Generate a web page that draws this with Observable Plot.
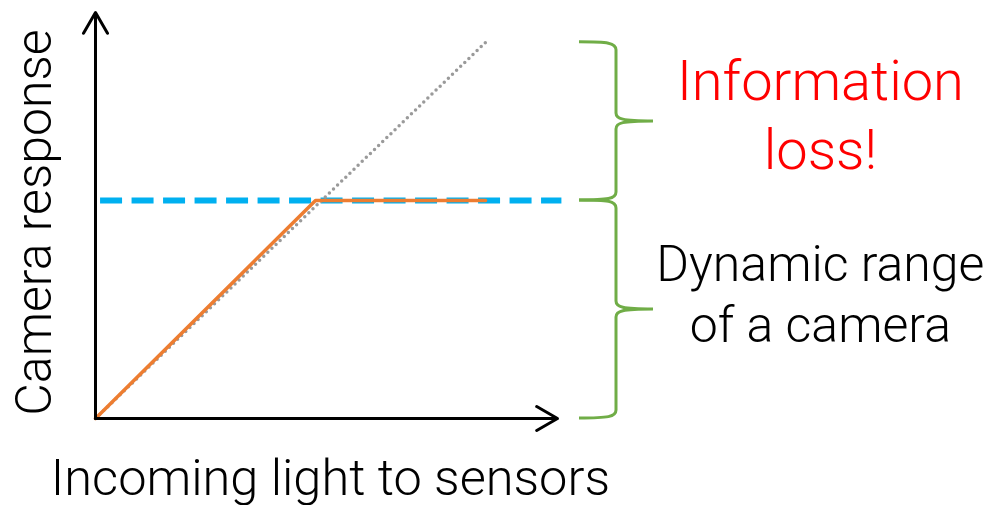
<!DOCTYPE html>
<html>
<head>
<meta charset="utf-8">
<script src="https://cdn.jsdelivr.net/npm/d3@7"></script>
<script src="https://cdn.jsdelivr.net/npm/@observablehq/plot@0.6"></script>
<style>
  html, body { margin: 0; padding: 0; background: #fff; }
  #chart svg { display: block; }
</style>
</head>
<body>
<div id="chart"></div>
<script>
// ---- data (units: saturation level = 1) ----
const idealLight    = [0, 1.773];          // incoming light (ideal linear response)
const idealResponse = [0, 1.725];
const cameraLight    = [0, 1, 1.773];      // actual camera response (clipped)
const cameraResponse = [0, 1, 1];
const saturationLevel = 1;
const rangeLevels = [0, 1, 1.725];         // brace boundaries: dynamic range / information loss
const xAxisEnd = 2.1;
const yAxisEnd = 1.862;
const xLabel = "Incoming light to sensors";
const yLabel = "Camera response";
const lossLines = ["Information", "loss!"];
const rangeLines = ["Dynamic range", "of a camera"];

const FONT = "Roboto, 'Open Sans', sans-serif";

const ideal = idealLight.map((x, i) => ({x, y: idealResponse[i]}));
const camera = cameraLight.map((x, i) => ({x, y: cameraResponse[i]}));

function braces(index, scales, values, dims) {
  const ns = "http://www.w3.org/2000/svg";
  const g = document.createElementNS(ns, "g");
  const xL = scales.x(xAxisEnd) + 22, xS = xL + 37, xT = xS + 37;
  for (let k = 0; k < rangeLevels.length - 1; k++) {
    const yb = scales.y(rangeLevels[k]), ya = scales.y(rangeLevels[k + 1]);
    const m = (ya + yb) / 2;
    const d = `M${xL},${ya} C${xS - 8},${ya} ${xS},${ya + 1} ${xS},${ya + 8}`
      + ` L${xS},${m - 8} C${xS},${m - 2} ${xS + 6},${m} ${xT},${m}`
      + ` C${xS + 6},${m} ${xS},${m + 2} ${xS},${m + 8}`
      + ` L${xS},${yb - 8} C${xS},${yb - 1} ${xS - 8},${yb} ${xL},${yb}`;
    const p = document.createElementNS(ns, "path");
    p.setAttribute("d", d);
    p.setAttribute("fill", "none");
    p.setAttribute("stroke", "#70ad47");
    p.setAttribute("stroke-width", "3");
    g.appendChild(p);
  }
  return g;
}

const chart = Plot.plot({
  width: 994,
  height: 505,
  marginLeft: 95,
  marginRight: 437,
  marginTop: 12,
  marginBottom: 87,
  x: {domain: [0, xAxisEnd], axis: null},
  y: {domain: [0, yAxisEnd], axis: null},
  style: {fontFamily: FONT, background: "#fff", overflow: "visible"},
  marks: [
    Plot.ruleY([saturationLevel], {x1: 0.023, x2: 2.12, stroke: "#00b0f0", strokeWidth: 6, strokeDasharray: "22 9.5", clip: false}),
    Plot.line(ideal, {x: "x", y: "y", stroke: "#9a9a9a", strokeWidth: 3.5, strokeDasharray: "0 5.7", strokeLinecap: "round"}),
    Plot.line(camera, {x: "x", y: "y", stroke: "#ed7d31", strokeWidth: 3.5}),
    Plot.arrow([0], {x1: 0, y1: 0, x2: 0, y2: yAxisEnd, stroke: "black", strokeWidth: 3, headLength: 12}),
    Plot.arrow([0], {x1: 0, y1: 0, x2: xAxisEnd, y2: 0, stroke: "black", strokeWidth: 3, headLength: 12}),
    braces,
    Plot.text([xLabel], {x: 1.068, y: -0.349, text: d => d, textAnchor: "middle", lineAnchor: "bottom", fontSize: 50.5, fill: "black", fontWeight: 300, clip: false}),
    Plot.text([yLabel], {x: -0.204, y: 0.899, text: d => d, rotate: -90, textAnchor: "middle", lineAnchor: "bottom", fontSize: 50, fill: "black", fontWeight: 300, clip: false}),
    Plot.text([lossLines.join("\n")], {x: 3.295, y: 1.142, text: d => d, textAnchor: "middle", lineAnchor: "bottom", fontSize: 56, lineHeight: 69 / 56, fill: "#ff0000", fontWeight: 300, clip: false}),
    Plot.text([rangeLines.join("\n")], {x: 3.295, y: 0.353, text: d => d, textAnchor: "middle", lineAnchor: "bottom", fontSize: 50, lineHeight: 61 / 50, fill: "black", fontWeight: 300, clip: false})
  ]
});
document.getElementById("chart").appendChild(chart);
</script>
</body>
</html>
